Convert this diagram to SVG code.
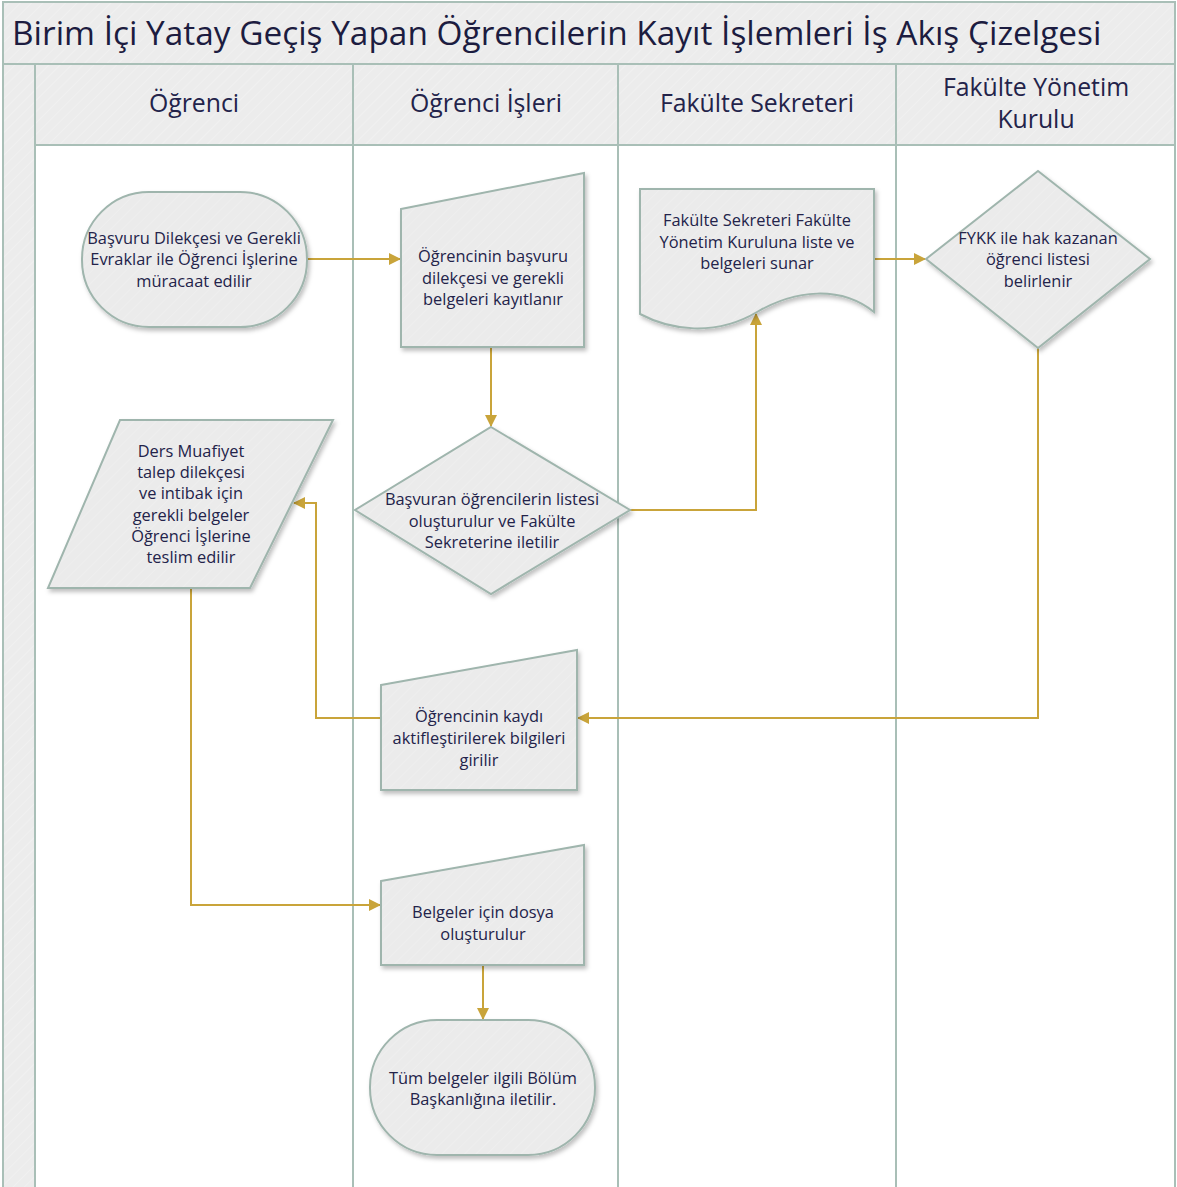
<svg xmlns="http://www.w3.org/2000/svg" width="1177" height="1187" viewBox="0 0 1177 1187">
<style>
.lane{fill:none;stroke:#a9bfb7;stroke-width:2}
.hdr{fill:url(#hatch)}
.node{fill:url(#nhatch);stroke:#9fb5ad;stroke-width:2;filter:url(#sh)}
.t{font-family:"Open Sans","Noto Sans",sans-serif;font-size:16.4px;fill:#23234a;text-anchor:middle}
.h{font-family:"Open Sans","Noto Sans",sans-serif;font-size:24.8px;fill:#23234a;text-anchor:middle}
.ttl{font-family:"Open Sans","Noto Sans",sans-serif;font-size:33.4px;fill:#1c1c40}
.c{fill:none;stroke:#c9a43a;stroke-width:2}
</style>
<defs>
<pattern id="hatch" width="8" height="8" patternUnits="userSpaceOnUse" patternTransform="rotate(45)">
<rect width="8" height="8" fill="#ececec"/>
<line x1="0" y1="0" x2="0" y2="8" stroke="#f3f3f3" stroke-width="1.2"/>
</pattern>
<pattern id="nhatch" width="8" height="8" patternUnits="userSpaceOnUse" patternTransform="rotate(45)">
<rect width="8" height="8" fill="#ebebeb"/>
<line x1="0" y1="0" x2="0" y2="8" stroke="#f1f1f1" stroke-width="1.2"/>
</pattern>
<filter id="sh" x="-10%" y="-10%" width="130%" height="130%">
<feDropShadow dx="2" dy="3" stdDeviation="2" flood-color="#000" flood-opacity="0.25"/>
</filter>
<marker id="ah" markerWidth="12" markerHeight="12" refX="11" refY="6" orient="auto" markerUnits="userSpaceOnUse">
<path d="M0,0 L12,6 L0,12 Z" fill="#c9a43a"/>
</marker>
</defs>

<g id="frame">
<rect x="0" y="0" width="1177" height="1187" fill="#ffffff"/>
<rect x="3" y="2" width="1172" height="62" class="hdr"/>
<rect x="3" y="64" width="32" height="1123" class="hdr"/>
<rect x="35" y="64" width="1140" height="81" class="hdr"/>
<rect x="3" y="2" width="1172" height="1190" class="lane"/>
<line x1="3" y1="64" x2="1175" y2="64" class="lane"/>
<line x1="35" y1="145" x2="1175" y2="145" class="lane"/>
<line x1="35" y1="64" x2="35" y2="1187" class="lane"/>
<line x1="353" y1="64" x2="353" y2="1187" class="lane"/>
<line x1="618" y1="64" x2="618" y2="1187" class="lane"/>
<line x1="896" y1="64" x2="896" y2="1187" class="lane"/>
<text x="12" y="45" class="ttl">Birim İçi Yatay Geçiş Yapan Öğrencilerin Kayıt İşlemleri İş Akış Çizelgesi</text>
<text x="194" y="112" class="h">Öğrenci</text>
<text x="486" y="112" class="h">Öğrenci İşleri</text>
<text x="757" y="112" class="h">Fakülte Sekreteri</text>
<text x="1036" y="96" class="h">Fakülte Yönetim</text>
<text x="1036" y="128" class="h">Kurulu</text>
</g>

<g id="connectors">
<path class="c" d="M307,259 H400" marker-end="url(#ah)"/>
<path class="c" d="M491,347 V426" marker-end="url(#ah)"/>
<path class="c" d="M630,510 H756 V314" marker-end="url(#ah)"/>
<path class="c" d="M874,259 H925" marker-end="url(#ah)"/>
<path class="c" d="M1038,348 V718 H578" marker-end="url(#ah)"/>
<path class="c" d="M381,718 H316 V503 H294" marker-end="url(#ah)"/>
<path class="c" d="M191,588 V905 H380" marker-end="url(#ah)"/>
<path class="c" d="M483,965 V1019" marker-end="url(#ah)"/>
</g>

<g id="n1">
<rect x="82" y="192" width="225" height="135" rx="67" ry="67" class="node"/>
<text class="t"><tspan x="194" y="244">Başvuru Dilekçesi ve Gerekli</tspan><tspan x="194" y="265">Evraklar ile Öğrenci İşlerine</tspan><tspan x="194" y="287">müracaat edilir</tspan></text>
</g>

<g id="n2">
<path d="M401,209 L584,173 V347 H401 Z" class="node"/>
<text class="t"><tspan x="493" y="262">Öğrencinin başvuru</tspan><tspan x="493" y="284">dilekçesi ve gerekli</tspan><tspan x="493" y="305">belgeleri kayıtlanır</tspan></text>
</g>

<g id="n3">
<path d="M491,427 L630,510 L491,594 L355,510 Z" class="node"/>
<text class="t"><tspan x="492" y="505">Başvuran öğrencilerin listesi</tspan><tspan x="492" y="527">oluşturulur ve Fakülte</tspan><tspan x="492" y="548">Sekreterine iletilir</tspan></text>
</g>

<g id="n4">
<path d="M640,189 H874 V312 C840,285 795,290 757,312 C715,337 670,330 640,314 Z" class="node"/>
<text class="t"><tspan x="757" y="226">Fakülte Sekreteri Fakülte</tspan><tspan x="757" y="248">Yönetim Kuruluna liste ve</tspan><tspan x="757" y="269">belgeleri sunar</tspan></text>
</g>

<g id="n5">
<path d="M1038,171 L1150,259 L1038,348 L926,259 Z" class="node"/>
<text class="t"><tspan x="1038" y="244">FYKK ile hak kazanan</tspan><tspan x="1038" y="265">öğrenci listesi</tspan><tspan x="1038" y="287">belirlenir</tspan></text>
</g>

<g id="n6">
<path d="M381,685 L577,650 V790 H381 Z" class="node"/>
<text class="t"><tspan x="479" y="722">Öğrencinin kaydı</tspan><tspan x="479" y="744">aktifleştirilerek bilgileri</tspan><tspan x="479" y="766">girilir</tspan></text>
</g>

<g id="n7">
<path d="M120,420 L333,420 L250,588 L48,588 Z" class="node"/>
<text class="t"><tspan x="191" y="457">Ders Muafiyet</tspan><tspan x="191" y="478">talep dilekçesi</tspan><tspan x="191" y="499">ve intibak için</tspan><tspan x="191" y="521">gerekli belgeler</tspan><tspan x="191" y="542">Öğrenci İşlerine</tspan><tspan x="191" y="563">teslim edilir</tspan></text>
</g>

<g id="n8">
<path d="M381,881 L584,845 V965 H381 Z" class="node"/>
<text class="t"><tspan x="483" y="918">Belgeler için dosya</tspan><tspan x="483" y="940">oluşturulur</tspan></text>
</g>

<g id="n9">
<rect x="370" y="1020" width="225" height="135" rx="67" ry="67" class="node"/>
<text class="t"><tspan x="483" y="1084">Tüm belgeler ilgili Bölüm</tspan><tspan x="483" y="1105">Başkanlığına iletilir.</tspan></text>
</g>
</svg>
